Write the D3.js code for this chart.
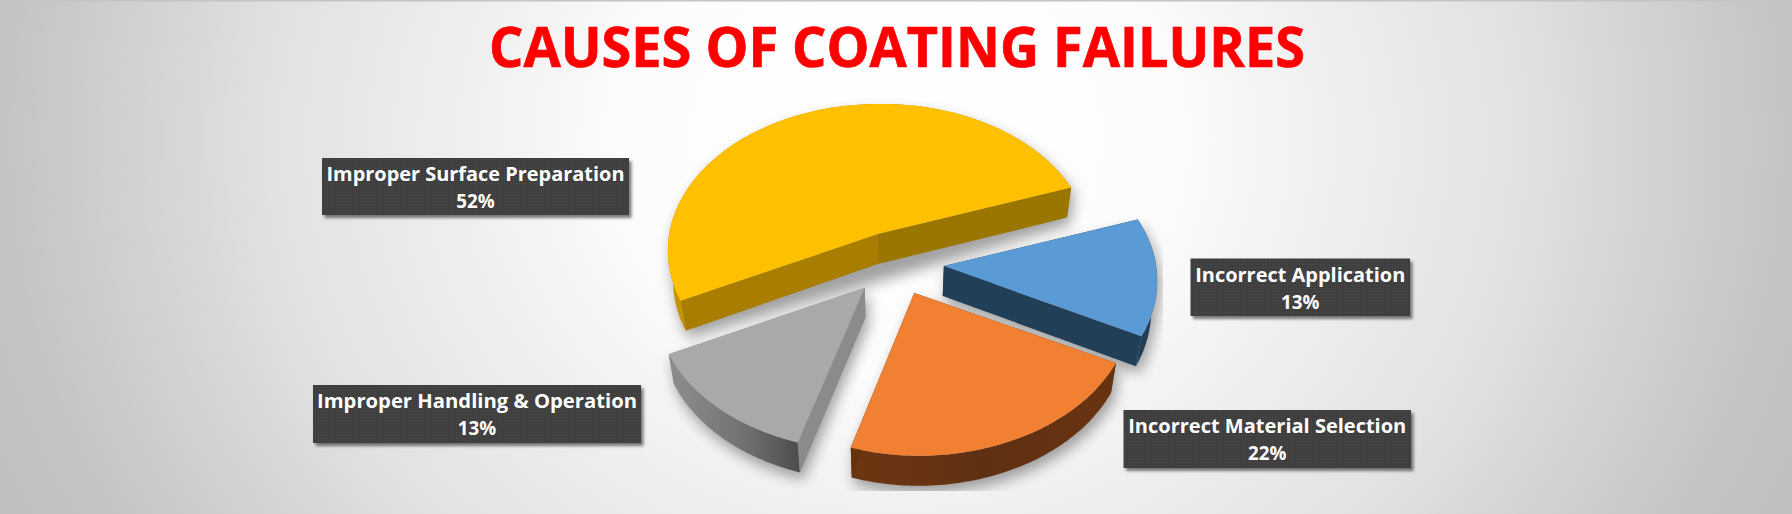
<!DOCTYPE html>
<html><head><meta charset="utf-8">
<script src="https://cdn.jsdelivr.net/npm/d3@7/dist/d3.min.js"></script>
<style>html,body{margin:0;padding:0;background:#fff;overflow:hidden}svg{display:block}</style>
</head><body><svg id="c" width="1792" height="514"></svg>
<script>
const chartTitle = "CAUSES OF COATING FAILURES";
const categories = ["Improper Surface Preparation","Incorrect Application","Incorrect Material Selection","Improper Handling & Operation"];
const shares = [52,13,22,13];
const shareLabels = ["52%","13%","22%","13%"];

const topColors = ["#ffc000","#5b9bd5","#f28033","#a9a9a9"];
const layout = {cx:896, cy:263.5, R:210, K:.689, persp:.112, explodeX:48, explodeY:31.8, depth:30, startDeg:244, skewY:.008, vanish:.977};
const rimShift = [1.5, 2, 6, 2.5];
const boxes = [
  {x:322,y:158,w:307,h:57,tw:298},
  {x:1190.5,y:258.5,w:219.5,h:57.5,tw:210},
  {x:1123.5,y:410,w:287.5,h:58,tw:278},
  {x:313,y:385,w:328,h:58,tw:320}
];
const svg = d3.select("#c");
const defs = svg.append("defs");

// background
const bg = defs.append("radialGradient").attr("id","bg").attr("gradientUnits","userSpaceOnUse")
  .attr("cx",0).attr("cy",0).attr("r",1)
  .attr("gradientTransform","translate(896 140) scale(1035 920)");
[[0,"#ffffff"],[.26,"#fcfcfc"],[.42,"#efefef"],[.6,"#e2e2e2"],[.7,"#d6d6d6"],[.87,"#c3c3c3"],[1,"#bdbdbd"]].forEach(s=>bg.append("stop").attr("offset",s[0]).attr("stop-color",s[1]));
svg.append("rect").attr("width",1792).attr("height",514).attr("fill","url(#bg)");
svg.append("rect").attr("width",1792).attr("height",1.5).attr("fill","#c4c4c4");

// filters & patterns
const sh = defs.append("filter").attr("id","soft").attr("x","-30%").attr("y","-30%").attr("width","160%").attr("height","160%");
sh.append("feGaussianBlur").attr("stdDeviation",7);
const pat = defs.append("pattern").attr("id","dots").attr("width",3).attr("height",3).attr("patternUnits","userSpaceOnUse");
pat.append("rect").attr("width",3).attr("height",3).attr("fill","#404040");
pat.append("rect").attr("width",1).attr("height",1).attr("fill","#4a4a4a");
pat.append("rect").attr("x",1.5).attr("y",1.5).attr("width",1).attr("height",1).attr("fill","#363636");
const boxSh = defs.append("filter").attr("id","boxsh").attr("x","-5%").attr("y","-20%").attr("width","110%").attr("height","140%");
boxSh.append("feGaussianBlur").attr("stdDeviation",1.6);

function gradient(id, stops, x1, x2){
  const g = defs.append("linearGradient").attr("id",id).attr("gradientUnits","userSpaceOnUse")
    .attr("x1",x1).attr("x2",x2).attr("y1",0).attr("y2",0);
  stops.forEach(s=>g.append("stop").attr("offset",s[0]).attr("stop-color",s[1]));
  return `url(#${id})`;
}
const rimFills = [
  "#c69400",
  "#223f58",
  gradient("rimO",[[0,"#6e3612"],[.2,"#693412"],[.5,"#5f3013"],[1,"#6a3411"]],850,1120),
  gradient("rimG",[[0,"#8f8f8f"],[.55,"#737373"],[1,"#4c4c4c"]],668,800)
];
// wall leaving the apex at the start angle / at the end angle of each slice
const startWall = ["#a87d00","#223f58","#66330f","#8b8b8b"];
const endWall   = ["#9a7500","#223f58","#66330f","#8b8b8b"];

const pie = d3.pie().value(d=>d).sort(null)
  .startAngle(layout.startDeg*Math.PI/180).endAngle((layout.startDeg+360)*Math.PI/180);
const arcs = pie(shares);

// projected point on the tilted plane, relative to a slice's apex
function project(theta){
  const u = Math.sin(theta), v = Math.cos(theta);
  const s = 1/(1+layout.persp*v);
  const dx = layout.R*u*s;
  return [dx, -layout.R*layout.K*v*s - layout.skewY*Math.max(dx,0)];
}
const line = d3.line();
defs.append("clipPath").attr("id","shClip").append("rect")
  .attr("x",600).attr("y",60).attr("width",563).attr("height",431);

const slices = arcs.map((a,i)=>{
  const mid=(a.startAngle+a.endAngle)/2;
  const ax=layout.cx+layout.explodeX*Math.sin(mid), ay=layout.cy-layout.explodeY*Math.cos(mid);
  const n=Math.max(8,Math.round((a.endAngle-a.startAngle)*60));
  const rim=d3.range(n+1).map(k=>{
    const p=project(a.startAngle+(a.endAngle-a.startAngle)*k/n);
    return [ax+p[0]+rimShift[i],ay+p[1]];
  });
  return {i,ax,ay,rim};
});
// lower face of the extrusion: shifted down and drawn slightly toward the vanishing axis
const drop=pts=>pts.map(p=>[layout.cx+(p[0]-layout.cx)*layout.vanish,p[1]+layout.depth]);

// soft shadows below and between the slices
const order=[0,1,3,2];
const shadowG=svg.append("g").attr("clip-path","url(#shClip)");
order.forEach(i=>{
  const s=slices[i];
  const pts=[[s.ax,s.ay],...s.rim];
  const h=d3.polygonHull(pts.concat(drop(pts)));
  shadowG.append("path").attr("d",line(h)+"Z").attr("fill","#000").attr("opacity",.36)
    .attr("transform","translate(3,7)").attr("filter","url(#soft)");
});

const pieG=svg.append("g");
order.forEach(i=>{
  const s=slices[i], g=pieG.append("g");
  const apex=[s.ax,s.ay], first=s.rim[0], last=s.rim[s.rim.length-1];
  // outer rim
  g.append("path").attr("d",line([...s.rim,...drop(s.rim).reverse()])+"Z").attr("fill",rimFills[i]);
  // walls
  g.append("path").attr("d",line([apex,first,...drop([first]),...drop([apex])])+"Z").attr("fill",startWall[i]);
  g.append("path").attr("d",line([apex,last,...drop([last]),...drop([apex])])+"Z").attr("fill",endWall[i]);
  // top
  g.append("path").attr("d",line([apex,...s.rim])+"Z").attr("fill",topColors[i]);
});

// title
svg.append("text").attr("x",897).attr("y",67).attr("text-anchor","middle")
  .attr("font-family","'Open Sans'").attr("font-weight",700).attr("font-size",55)
  .attr("fill","#ff0000").attr("stroke","#ff0000").attr("stroke-width",.7)
  .attr("textLength",816).attr("lengthAdjust","spacingAndGlyphs").text(chartTitle);

// labels
categories.forEach((c,i)=>{
  const b=boxes[i], g=svg.append("g");
  g.append("rect").attr("x",b.x+2.5).attr("y",b.y+3).attr("width",b.w).attr("height",b.h).attr("fill","#000").attr("opacity",.5).attr("filter","url(#boxsh)");
  g.append("rect").attr("x",b.x).attr("y",b.y).attr("width",b.w).attr("height",b.h).attr("fill","url(#dots)");
  const tx=b.x+b.w/2;
  const font=t=>t.attr("x",tx).attr("text-anchor","middle").attr("fill","#fff")
    .attr("font-family","'Open Sans'").attr("font-weight",700).attr("font-size",18.8);
  g.append("text").call(font).attr("y",b.y+23).attr("textLength",b.tw).attr("lengthAdjust","spacingAndGlyphs").text(c);
  g.append("text").call(font).attr("y",b.y+50).text(shareLabels[i]);
});
</script></body></html>
